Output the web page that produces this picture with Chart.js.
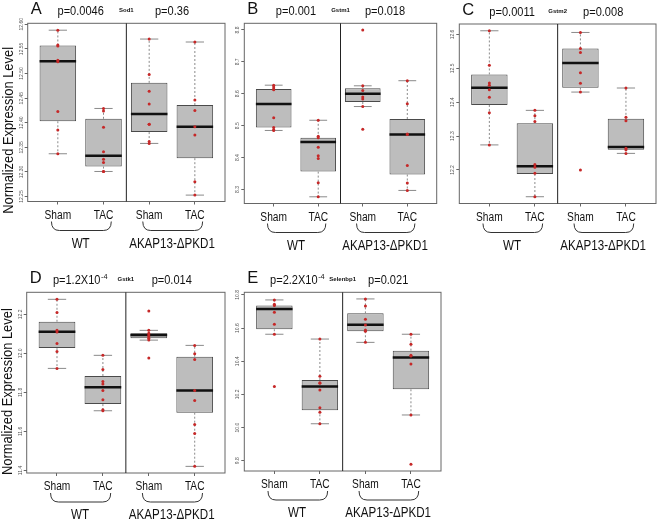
<!DOCTYPE html>
<html>
<head>
<meta charset="utf-8">
<script src="https://cdn.jsdelivr.net/npm/chart.js@4.4.0/dist/chart.umd.min.js"></script>
<style>
  body { margin: 0; background: #fff; width: 660px; height: 522px; position: relative; overflow: hidden; }
  canvas { position: absolute; }
</style>
</head>
<body>
<canvas id="panelA"></canvas>
<canvas id="panelB"></canvas>
<canvas id="panelC"></canvas>
<canvas id="panelD"></canvas>
<canvas id="panelE"></canvas>
<script>
const xLabels = ['Sham', 'TAC', 'Sham', 'TAC'];
const groupLabels = ['WT', 'AKAP13-ΔPKD1'];

// A - Sod1 (points per group: WT Sham, WT TAC, AKAP Sham, AKAP TAC)
const sod1Points = [
    [12.588, 12.558, 12.556, 12.527, 12.524, 12.423, 12.385, 12.337],
    [12.429, 12.424, 12.391, 12.341, 12.326, 12.319, 12.301, 12.301],
    [12.570, 12.498, 12.464, 12.438, 12.397, 12.397, 12.362, 12.358],
    [12.564, 12.446, 12.425, 12.392, 12.375, 12.280, 12.253]
];
// lo whisker, q1, median, q3, hi whisker
const sod1Box = [
    [12.337, 12.403, 12.525, 12.557, 12.588],
    [12.301, 12.311, 12.333, 12.408, 12.429],
    [12.358, 12.381, 12.418, 12.481, 12.570],
    [12.253, 12.328, 12.392, 12.436, 12.564]
];
const sod1Ticks = [12.25, 12.30, 12.35, 12.40, 12.45, 12.50, 12.55, 12.60];
const sod1Range = [12.240, 12.602];
const sod1P = ['p=0.0046', 'p=0.36'];

// B - Gstm1
const gstm1Points = [
    [8.627, 8.621, 8.615, 8.613, 8.525, 8.494, 8.487, 8.485],
    [8.517, 8.467, 8.462, 8.432, 8.406, 8.397, 8.321, 8.277],
    [8.800, 8.625, 8.610, 8.590, 8.584, 8.560, 8.489],
    [8.641, 8.569, 8.474, 8.472, 8.375, 8.320, 8.297]
];
const gstm1Box = [
    [8.485, 8.494, 8.568, 8.615, 8.627],
    [8.277, 8.356, 8.449, 8.462, 8.517],
    [8.560, 8.574, 8.600, 8.617, 8.625],
    [8.297, 8.347, 8.472, 8.521, 8.641]
];
const gstm1Ticks = [8.3, 8.4, 8.5, 8.6, 8.7, 8.8];
const gstm1Range = [8.256, 8.821];
const gstm1P = ['p=0.001', 'p=0.018'];

// C - Gstm2
const gstm2Points = [
    [12.611, 12.509, 12.457, 12.450, 12.437, 12.415, 12.369, 12.274],
    [12.376, 12.360, 12.343, 12.216, 12.208, 12.190, 12.121],
    [12.606, 12.559, 12.547, 12.487, 12.456, 12.430, 12.200],
    [12.442, 12.356, 12.345, 12.264, 12.260, 12.249]
];
const gstm2Box = [
    [12.274, 12.392, 12.443, 12.482, 12.611],
    [12.121, 12.188, 12.211, 12.338, 12.376],
    [12.430, 12.443, 12.516, 12.559, 12.606],
    [12.249, 12.260, 12.268, 12.351, 12.442]
];
const gstm2Ticks = [12.2, 12.3, 12.4, 12.5, 12.6];
const gstm2Range = [12.101, 12.631];
const gstm2P = ['p=0.0011', 'p=0.008'];

// D - Gstk1
const gstk1Points = [
    [12.277, 12.210, 12.118, 12.109, 12.050, 12.009, 11.923],
    [11.990, 11.918, 11.856, 11.843, 11.810, 11.762, 11.711, 11.706],
    [12.217, 12.118, 12.103, 12.094, 12.086, 12.077, 12.068, 11.976],
    [12.041, 11.998, 11.969, 11.810, 11.759, 11.636, 11.590, 11.421]
];
const gstk1Box = [
    [11.923, 12.027, 12.111, 12.162, 12.277],
    [11.706, 11.740, 11.827, 11.884, 11.990],
    [12.068, 12.077, 12.094, 12.103, 12.118],
    [11.421, 11.696, 11.810, 11.983, 12.041]
];
const gstk1Ticks = [11.4, 11.6, 11.8, 12.0, 12.2];
const gstk1Range = [11.387, 12.313];
const gstk1P = [['p=1.2X10', '-4'], ['p=0.014', '']];

// E - Selenbp1
const selenbp1Points = [
    [10.770, 10.744, 10.736, 10.695, 10.623, 10.563, 10.247],
    [10.534, 10.309, 10.271, 10.267, 10.227, 10.120, 10.092, 10.023],
    [10.776, 10.734, 10.653, 10.619, 10.589, 10.581, 10.514],
    [10.563, 10.502, 10.436, 10.432, 10.383, 10.076, 9.778]
];
const selenbp1Box = [
    [10.563, 10.593, 10.715, 10.736, 10.770],
    [10.023, 10.104, 10.247, 10.287, 10.534],
    [10.514, 10.581, 10.621, 10.689, 10.776],
    [10.076, 10.231, 10.422, 10.464, 10.563]
];
const selenbp1Ticks = [9.8, 10.0, 10.2, 10.4, 10.6, 10.8];
const selenbp1Range = [9.738, 10.816];
const selenbp1P = [['p=2.2X10', '-4'], ['p=0.021', '']];

const FONT = "'Liberation Sans', Arial, sans-serif";

// canvas placement and plot box (page pixels)
const panels = [
    { id: 'panelA', letter: 'A', gene: 'Sod1', points: sod1Points, box: sod1Box, ticks: sod1Ticks, range: sod1Range, p: sod1P, decimals: 2, yTitle: 18,
      canvas: { x: 0, y: 0, w: 230, h: 255 }, plot: { l: 27.7, t: 23.3, r: 225, b: 201.5 } },
    { id: 'panelB', letter: 'B', gene: 'Gstm1', points: gstm1Points, box: gstm1Box, ticks: gstm1Ticks, range: gstm1Range, p: gstm1P, decimals: 1, yTitle: null,
      canvas: { x: 230, y: 0, w: 215, h: 255 }, plot: { l: 244.3, t: 23.3, r: 436.7, b: 203.5 } },
    { id: 'panelC', letter: 'C', gene: 'Gstm2', points: gstm2Points, box: gstm2Box, ticks: gstm2Ticks, range: gstm2Range, p: gstm2P, decimals: 1, yTitle: null,
      canvas: { x: 445, y: 0, w: 215, h: 255 }, plot: { l: 459.3, t: 24, r: 657.7, b: 203.5 } },
    { id: 'panelD', letter: 'D', gene: 'Gstk1', points: gstk1Points, box: gstk1Box, ticks: gstk1Ticks, range: gstk1Range, p: gstk1P, decimals: 1, yTitle: 9,
      canvas: { x: 0, y: 255, w: 230, h: 267 }, plot: { l: 26.7, t: 292.3, r: 225, b: 473 } },
    { id: 'panelE', letter: 'E', gene: 'Selenbp1', points: selenbp1Points, box: selenbp1Box, ticks: selenbp1Ticks, range: selenbp1Range, p: selenbp1P, decimals: 1, yTitle: null,
      canvas: { x: 230, y: 255, w: 215, h: 267 }, plot: { l: 244.3, t: 292.3, r: 442.7, b: 471 } }
];

// condensed text, the figure uses a narrow face
function narrowText(ctx, text, x, y, size, sx, align) {
    ctx.save();
    ctx.translate(x, y);
    ctx.scale(sx, 1);
    ctx.font = size + 'px ' + FONT;
    ctx.textAlign = align;
    ctx.fillText(text, 0, 0);
    ctx.restore();
}

function pText(ctx, parts, cx, baseline) {
    const base = Array.isArray(parts) ? parts[0] : parts;
    const sup = Array.isArray(parts) ? parts[1] : '';
    const sx = 0.92;
    ctx.font = '12px ' + FONT;
    const w1 = ctx.measureText(base).width * sx;
    ctx.font = '8px ' + FONT;
    const w2 = sup ? ctx.measureText(sup).width * sx : 0;
    const start = cx - (w1 + w2) / 2;
    ctx.textBaseline = 'alphabetic';
    narrowText(ctx, base, start, baseline, 12, sx, 'left');
    if (sup) narrowText(ctx, sup, start + w1 + 0.5, baseline - 5, 8, sx, 'left');
}

// whiskers, staples and medians, drawn between the boxes and the points
function boxExtras(panel) {
    return {
        id: 'boxExtras',
        beforeDatasetDraw(chart, args) {
            if (args.index !== 1) return;
            const ctx = chart.ctx;
            const xs = chart.scales.x, ys = chart.scales.y;
            const boxW = (xs.getPixelForValue(2) - xs.getPixelForValue(1)) * 0.8;
            ctx.save();
            panel.box.forEach((b, i) => {
                const px = xs.getPixelForValue(i + 1);
                const [lo, q1, med, q3, hi] = b.map(v => ys.getPixelForValue(v));
                ctx.strokeStyle = '#8a8a8a';
                ctx.lineWidth = 1;
                ctx.setLineDash([2, 2]);
                ctx.beginPath();
                ctx.moveTo(px, q3); ctx.lineTo(px, hi);
                ctx.moveTo(px, q1); ctx.lineTo(px, lo);
                ctx.stroke();
                ctx.setLineDash([]);
                ctx.beginPath();
                ctx.moveTo(px - boxW / 4, hi); ctx.lineTo(px + boxW / 4, hi);
                ctx.moveTo(px - boxW / 4, lo); ctx.lineTo(px + boxW / 4, lo);
                ctx.stroke();
                ctx.strokeStyle = '#111';
                ctx.lineWidth = 2.5;
                ctx.beginPath();
                ctx.moveTo(px - boxW / 2, med); ctx.lineTo(px + boxW / 2, med);
                ctx.stroke();
            });
            ctx.restore();
        },
        afterDraw(chart) {
            const ctx = chart.ctx;
            const a = chart.chartArea;
            const xs = chart.scales.x, ys = chart.scales.y;
            ctx.save();
            // frame and group separator
            ctx.strokeStyle = '#666';
            ctx.lineWidth = 1;
            ctx.strokeRect(a.left, a.top, a.right - a.left, a.bottom - a.top);
            const sep = xs.getPixelForValue(2.5);
            ctx.strokeStyle = '#222';
            ctx.beginPath();
            ctx.moveTo(sep, a.top); ctx.lineTo(sep, a.bottom);
            ctx.stroke();

            // y tick labels, rotated like R
            ctx.fillStyle = '#555';
            ctx.font = '5px ' + FONT;
            ctx.textAlign = 'center';
            ctx.textBaseline = 'middle';
            panel.ticks.forEach(v => {
                ctx.save();
                ctx.translate(a.left - 6.5, ys.getPixelForValue(v));
                ctx.rotate(-Math.PI / 2);
                ctx.fillText(v.toFixed(panel.decimals), 0, 0);
                ctx.restore();
            });

            // x labels
            ctx.fillStyle = '#111';
            ctx.textBaseline = 'alphabetic';
            xLabels.forEach((lab, i) => {
                narrowText(ctx, lab, xs.getPixelForValue(i + 1), a.bottom + 17, 12, 0.85, 'center');
            });

            // brackets and group names
            ctx.strokeStyle = '#333';
            ctx.lineWidth = 1;
            groupLabels.forEach((g, k) => {
                const x0 = xs.getPixelForValue(2 * k + 0.86);
                const x1 = xs.getPixelForValue(2 * k + 2.17);
                const y0 = a.bottom + 20, y1 = a.bottom + 29;
                ctx.beginPath();
                ctx.moveTo(x0, y0);
                ctx.quadraticCurveTo(x0, y1, x0 + 8, y1);
                ctx.lineTo(x1 - 8, y1);
                ctx.quadraticCurveTo(x1, y1, x1, y0);
                ctx.stroke();
                narrowText(ctx, g, xs.getPixelForValue(2 * k + 1.5), a.bottom + 46, 14.5, 0.8, 'center');
            });

            // panel letter, p values, gene name
            narrowText(ctx, panel.letter, a.left + 3, a.top - 9, 16.5, 1, 'left');
            pText(ctx, panel.p[0], xs.getPixelForValue(1.5), a.top - 8);
            pText(ctx, panel.p[1], xs.getPixelForValue(3.5), a.top - 8);
            ctx.font = 'bold 6px ' + FONT;
            ctx.textAlign = 'center';
            ctx.fillText(panel.gene, xs.getPixelForValue(2.5), a.top - 11);

            // y axis title
            if (panel.yTitle !== null) {
                ctx.save();
                ctx.translate(a.left - 19, (a.top + a.bottom) / 2 + panel.yTitle);
                ctx.rotate(-Math.PI / 2);
                ctx.textBaseline = 'middle';
                narrowText(ctx, 'Normalized Expression Level', 0, 0, 14, 0.92, 'center');
                ctx.restore();
            }
            ctx.restore();
        }
    };
}

function makePanel(panel) {
    const cv = document.getElementById(panel.id);
    const c = panel.canvas, p = panel.plot;
    cv.width = c.w; cv.height = c.h;
    cv.style.left = c.x + 'px'; cv.style.top = c.y + 'px';
    cv.style.width = c.w + 'px'; cv.style.height = c.h + 'px';

    const boxData = panel.box.map((b, i) => ({ x: i + 1, y: [b[1], b[3]] }));
    const pointData = [];
    panel.points.forEach((grp, i) => grp.forEach(v => pointData.push({ x: i + 1, y: v })));

    new Chart(cv, {
        type: 'bar',
        data: {
            datasets: [
                {
                    type: 'bar',
                    data: boxData,
                    backgroundColor: '#bdbdbd',
                    borderColor: '#4a4a4a',
                    borderWidth: 1,
                    borderSkipped: false,
                    categoryPercentage: 1,
                    barPercentage: 0.8,
                    order: 2
                },
                {
                    type: 'scatter',
                    data: pointData,
                    backgroundColor: '#c62828',
                    borderColor: '#c62828',
                    pointRadius: 1.5,
                    borderWidth: 0,
                    order: 1
                }
            ]
        },
        options: {
            responsive: false,
            animation: false,
            devicePixelRatio: 1,
            layout: { padding: { left: 0, top: p.t - c.y, right: c.x + c.w - p.r, bottom: 0 } },
            plugins: { legend: { display: false }, tooltip: { enabled: false } },
            scales: {
                x: {
                    type: 'linear',
                    min: 0.34,
                    max: 4.66,
                    offset: false,
                    afterBuildTicks: s => { s.ticks = [1, 2, 3, 4].map(v => ({ value: v })); },
                    afterFit: s => { s.height = c.y + c.h - p.b; },
                    ticks: { display: false },
                    grid: { offset: false, drawOnChartArea: false, drawTicks: true, tickLength: 3, color: '#666' },
                    border: { display: false }
                },
                y: {
                    type: 'linear',
                    min: panel.range[0],
                    max: panel.range[1],
                    afterBuildTicks: s => { s.ticks = panel.ticks.map(v => ({ value: v })); },
                    afterFit: s => { s.width = p.l - c.x; },
                    ticks: { display: false },
                    grid: { drawOnChartArea: false, drawTicks: true, tickLength: 3, color: '#666' },
                    border: { display: false }
                }
            }
        },
        plugins: [boxExtras(panel)]
    });
}

panels.forEach(makePanel);
</script>
</body>
</html>
